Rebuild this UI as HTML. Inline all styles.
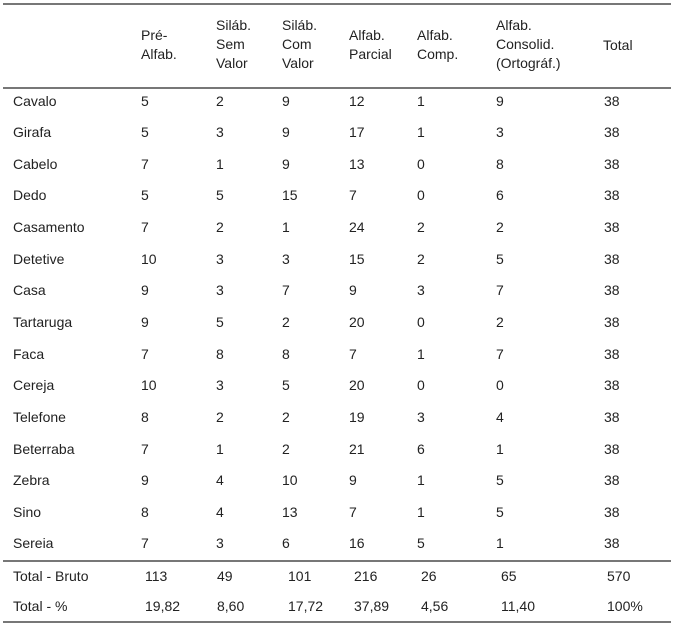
<!DOCTYPE html>
<html><head><meta charset="utf-8"><style>
body{margin:0;width:674px;height:627px;background:#fff;position:relative;font-family:"Liberation Sans",Arial,sans-serif;font-size:14px;color:#222;overflow:hidden}
.t{position:absolute;white-space:nowrap;line-height:19px}
.h{position:absolute;left:3px;width:668px;height:1px;background:#666}
</style></head><body>
<div class="h" style="top:3px;height:2px;background:#777"></div>
<div class="h" style="top:87px;height:2px;background:#777"></div>
<div class="h" style="top:560px;height:2px;background:#777"></div>
<div class="h" style="top:621px;height:2px;background:#777"></div>
<div class="t" style="left:141px;top:26px">Pré-<br>Alfab.</div>
<div class="t" style="left:216px;top:16px">Siláb.<br>Sem<br>Valor</div>
<div class="t" style="left:282px;top:16px">Siláb.<br>Com<br>Valor</div>
<div class="t" style="left:349px;top:26px">Alfab.<br>Parcial</div>
<div class="t" style="left:417px;top:26px">Alfab.<br>Comp.</div>
<div class="t" style="left:496px;top:16px">Alfab.<br>Consolid.<br>(Ortográf.)</div>
<div class="t" style="left:603px;top:36px">Total</div>
<div id="rows"></div>
<script>
var d=[["Cavalo",5,2,9,12,1,9,38],["Girafa",5,3,9,17,1,3,38],["Cabelo",7,1,9,13,0,8,38],["Dedo",5,5,15,7,0,6,38],["Casamento",7,2,1,24,2,2,38],["Detetive",10,3,3,15,2,5,38],["Casa",9,3,7,9,3,7,38],["Tartaruga",9,5,2,20,0,2,38],["Faca",7,8,8,7,1,7,38],["Cereja",10,3,5,20,0,0,38],["Telefone",8,2,2,19,3,4,38],["Beterraba",7,1,2,21,6,1,38],["Zebra",9,4,10,9,1,5,38],["Sino",8,4,13,7,1,5,38],["Sereia",7,3,6,16,5,1,38]];
var xs=[13,141,216,282,349,417,496,604],h="";
d.forEach(function(r,i){var y=101+i*31.64-9.5;r.forEach(function(v,j){h+='<div class="t" style="left:'+xs[j]+'px;top:'+y+'px">'+v+'</div>';});});
var xt=[13,145,217,288,354,421,501,607];
[["Total - Bruto",113,49,101,216,26,65,570],["Total - %","19,82","8,60","17,72","37,89","4,56","11,40","100%"]].forEach(function(r,i){var y=[576,606][i]-9.5;r.forEach(function(v,j){h+='<div class="t" style="left:'+xt[j]+'px;top:'+y+'px">'+v+'</div>';});});
document.getElementById("rows").innerHTML=h;
</script>
</body></html>
